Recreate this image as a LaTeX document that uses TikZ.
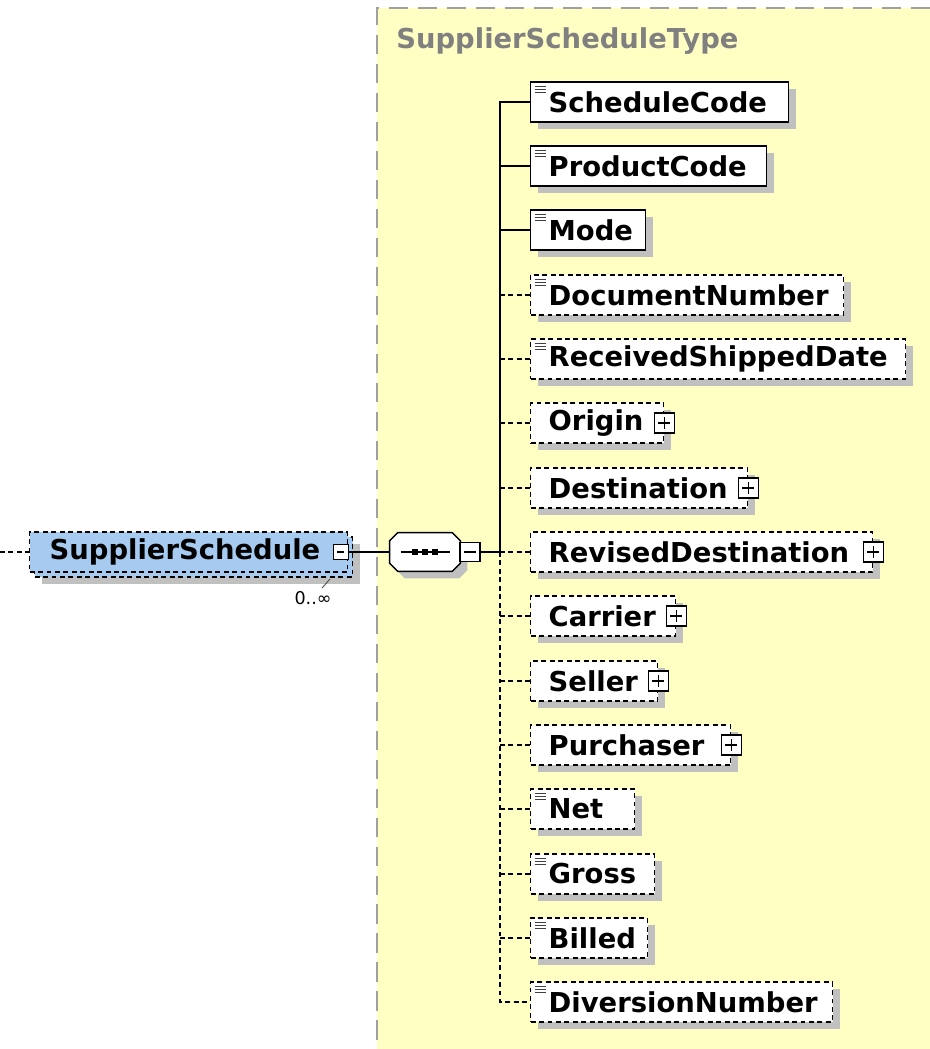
\documentclass[tikz,border=0pt]{standalone}
\usepackage{fontspec}
\setmainfont{DejaVu Sans}
\usetikzlibrary{shadows}
\definecolor{typebg}{HTML}{FFFFC4}
\definecolor{typeline}{HTML}{A0A0A0}
\definecolor{typetext}{HTML}{808080}
\definecolor{rootblue}{HTML}{A6CAF0}
\definecolor{shade}{HTML}{C0C0C0}

\tikzset{
  conn/.style={line width=0.8pt},
  optconn/.style={conn, dash pattern=on 2.8pt off 2pt},
  elemfont/.style={font=\bfseries\fontsize{15.6}{18}\selectfont},
  boxshadow/.style={drop shadow={shadow xshift=0.14cm, shadow yshift=-0.14cm, fill=shade, opacity=1}},
  elem/.style={draw, line width=0.8pt, fill=white, anchor=west, elemfont,
    minimum height=0.8cm, inner sep=0pt, align=left, boxshadow,
    execute at begin node={\noindent\hspace*{0.36cm}}},
  optelem/.style={elem, dash pattern=on 2.8pt off 2pt},
  leaf/.style={path picture={
    \foreach \dy in {0.08,0.14,0.2}
      \draw[solid, black!75, line width=0.5pt]
        ([xshift=0.08cm, yshift=-\dy*1cm]path picture bounding box.north west) -- ++(0.22cm,0);}},
  iconbox/.style={draw, solid, fill=white, line width=0.7pt, minimum size=0.4cm, inner sep=0pt},
  minusbox/.style={iconbox, path picture={
    \draw[line width=0.7pt] ([xshift=0.08cm]path picture bounding box.west) -- ([xshift=-0.08cm]path picture bounding box.east);}},
  plusbox/.style={iconbox, path picture={
    \draw[line width=0.7pt] ([xshift=0.08cm]path picture bounding box.west) -- ([xshift=-0.08cm]path picture bounding box.east)
      ([yshift=-0.08cm]path picture bounding box.north) -- ([yshift=0.08cm]path picture bounding box.south);}},
  rootback/.style={draw, fill=rootblue, line width=0.8pt, dash pattern=on 2.8pt off 2pt, anchor=west,
    minimum width=6.36cm, minimum height=0.8cm, inner sep=0pt, boxshadow},
  rootelem/.style={draw, fill=rootblue, line width=0.8pt, dash pattern=on 2.8pt off 2pt, anchor=west,
    text width=6.36cm, minimum height=0.8cm, inner sep=0pt, align=left, elemfont,
    execute at begin node={\noindent\hspace*{0.4cm}}},
  seqnode/.style={minimum width=1.4cm, minimum height=0.76cm, inner sep=0pt},
}

\begin{document}
\begin{tikzpicture}[x=0.02cm, y=-0.02cm]
  \useasboundingbox (0,0) rectangle (930,1049);

  % complex type area
  \fill[typebg] (377,8) rectangle (930,1049);
  \draw[typeline, line width=1.1pt, dash pattern=on 11pt off 5.5pt] (930,8) -- (377,8) -- (377,1049);
  \node[typetext, anchor=west, elemfont, inner sep=0pt] (typename) at (396,41) {SupplierScheduleType};

  % root element
  \node[rootback] (rootbk) at (34,557) {};
  \node[rootelem] (root) at (29,552) {SupplierSchedule};
  \node[minusbox, minimum size=0.3cm] (root-minus) at ([xshift=-0.15cm]root.east) {};
  \node[inner sep=0pt, font=\fontsize{10}{12}\selectfont] (occ) at (313,598) {0..∞};
  \draw[black!70, line width=0.5pt] ([xshift=0.18cm, yshift=0.06cm]occ.north) -- ++(0.16cm,0.18cm);
  \coordinate (feed) at (0,552);

  % sequence compositor
  \node[seqnode] (seq) at (425,552) {};
  \draw[conn, fill=white, boxshadow]
    ([yshift=-0.16cm]seq.north west) -- ([xshift=0.16cm]seq.north west)
    -- ([xshift=-0.16cm]seq.north east) -- ([yshift=-0.16cm]seq.north east)
    -- ([yshift=0.16cm]seq.south east) -- ([xshift=-0.16cm]seq.south east)
    -- ([xshift=0.16cm]seq.south west) -- ([yshift=0.16cm]seq.south west) -- cycle;
  \draw[conn] ([xshift=0.22cm]seq.west) -- ([xshift=-0.2cm]seq.east);
  \foreach \dx in {-0.2,0,0.2}
    \fill ([xshift=\dx*1cm]seq.center) ++(-0.055cm,-0.055cm) rectangle ++(0.11cm,0.11cm);
  \node[minusbox, minimum width=0.4cm, minimum height=0.38cm] (seq-minus) at (470,552) {};
  \coordinate (trunk) at (500,552);

  % child elements
  \node[elem, leaf, text width=5.16cm] (sc) at (530,102) {ScheduleCode};
  \node[elem, leaf, text width=4.72cm] (pc) at (530,166) {ProductCode};
  \node[elem, leaf, text width=2.30cm] (mode) at (530,230) {Mode};
  \node[optelem, leaf, text width=6.26cm] (docnum) at (530,295) {DocumentNumber};
  \node[optelem, leaf, text width=7.50cm] (rsd) at (530,359) {ReceivedShippedDate};
  \node[optelem, text width=2.66cm] (origin) at (530,423) {Origin};
  \node[optelem, text width=4.34cm] (dest) at (530,488) {Destination};
  \node[optelem, text width=6.84cm] (revdest) at (530,552) {RevisedDestination};
  \node[optelem, text width=2.90cm] (carrier) at (530,616) {Carrier};
  \node[optelem, text width=2.54cm] (seller) at (530,681) {Seller};
  \node[optelem, text width=4.00cm] (purch) at (530,745) {Purchaser};
  \node[optelem, leaf, text width=2.08cm] (net) at (530,809) {Net};
  \node[optelem, leaf, text width=2.48cm] (gross) at (530,874) {Gross};
  \node[optelem, leaf, text width=2.34cm] (billed) at (530,938) {Billed};
  \node[optelem, leaf, text width=6.04cm] (divnum) at (530,1002) {DiversionNumber};

  \node[plusbox] (origin-plus) at (origin.east) {};
  \node[plusbox] (dest-plus) at (dest.east) {};
  \node[plusbox] (revdest-plus) at (revdest.east) {};
  \node[plusbox] (carrier-plus) at (carrier.east) {};
  \node[plusbox] (seller-plus) at (seller.east) {};
  \node[plusbox] (purch-plus) at (purch.east) {};

  % connectors
  \draw[optconn] (feed) -- (root.west);
  \draw[conn] (root-minus.east) -- (seq.west);
  \draw[conn] (seq-minus.east) -- (trunk);
  \draw[conn] (sc.west) -- (sc.west -| trunk) -- (trunk);
  \draw[conn] (trunk |- pc.west) -- (pc.west);
  \draw[conn] (trunk |- mode.west) -- (mode.west);
  \draw[optconn] (trunk |- docnum.west) -- (docnum.west);
  \draw[optconn] (trunk |- rsd.west) -- (rsd.west);
  \draw[optconn] (trunk |- origin.west) -- (origin.west);
  \draw[optconn] (trunk |- dest.west) -- (dest.west);
  \draw[optconn] (trunk) -- (revdest.west);
  \draw[optconn] (trunk |- carrier.west) -- (carrier.west);
  \draw[optconn] (trunk |- seller.west) -- (seller.west);
  \draw[optconn] (trunk |- purch.west) -- (purch.west);
  \draw[optconn] (trunk |- net.west) -- (net.west);
  \draw[optconn] (trunk |- gross.west) -- (gross.west);
  \draw[optconn] (trunk |- billed.west) -- (billed.west);
  \draw[optconn] (trunk) -- (trunk |- divnum.west) -- (divnum.west);
\end{tikzpicture}
\end{document}
